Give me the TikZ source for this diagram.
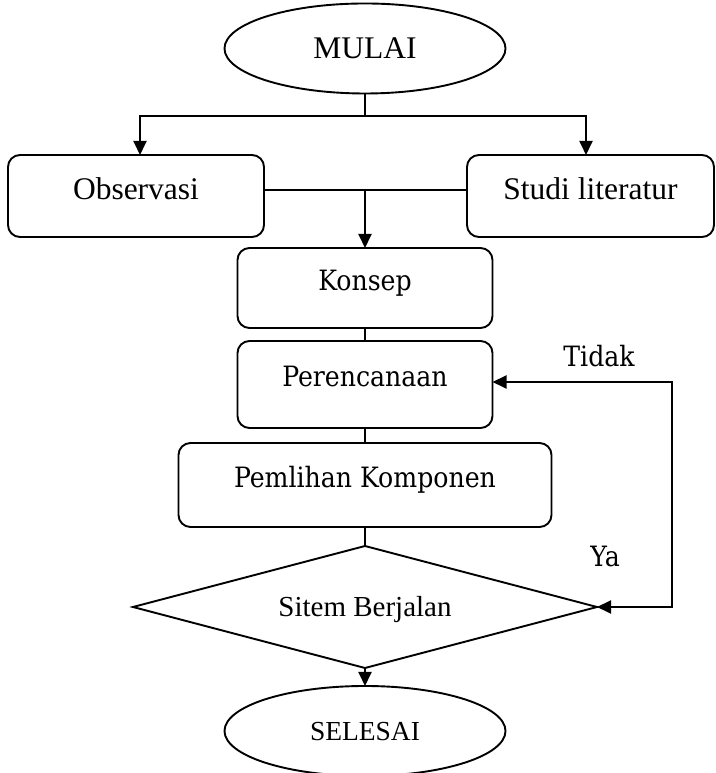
\documentclass[tikz,border=0pt]{standalone}
\usepackage{fontspec}
\setmainfont{Liberation Serif}
\newfontfamily\cambfont{DejaVu Serif Condensed}
\usetikzlibrary{shapes.geometric,arrows.meta}
\begin{document}
\begin{tikzpicture}[x=1pt,y=1pt,
  line width=1.9pt,
  every node/.style={inner sep=0pt, outer sep=0pt},
  tip/.style={-{Triangle[length=14pt,width=13pt]}},
  termnode/.style={draw, ellipse, minimum width=281pt, minimum height=90pt,
    text height=20.5pt, text depth=0pt},
  obox/.style={draw, rounded corners=12pt, font=\fontsize{31.5}{36}\selectfont,
    text height=21pt, text depth=14pt},
  cbox/.style={draw, rounded corners=12pt, font=\cambfont\fontsize{28}{32}\selectfont,
    text height=20.4pt, text depth=16pt},
  decnode/.style={draw, diamond, aspect=3.8, minimum width=464pt, minimum height=122pt,
    font=\fontsize{29}{32}\selectfont, text height=19pt, text depth=0pt},
  lbl/.style={font=\cambfont\fontsize{28}{32}\selectfont, text height=20.4pt, text depth=0pt}
]
\useasboundingbox (0,0) rectangle (715,773);

\node[termnode, font=\fontsize{31.5}{36}\selectfont] (mulai) at (365,724.5) {MULAI};
\node[obox, minimum width=256pt, minimum height=82pt] (obs) at (136,577) {Observasi};
\node[obox, minimum width=247pt, minimum height=82pt] (stu) at (590.5,577) {Studi literatur};
\node[cbox, minimum width=255pt, minimum height=80pt] (konsep) at (365,485) {Konsep};
\node[cbox, minimum width=255pt, minimum height=87pt] (perenc) at (365,388.5) {Perencanaan};
\node[cbox, minimum width=373pt, minimum height=84pt] (pemil) at (365,288) {Pemlihan Komponen};
\node[decnode] (dia) at (365,166) {Sitem Berjalan};
\node[termnode, font=\fontsize{27.5}{32}\selectfont, text height=18.2pt] (selesai) at (365,42) {SELESAI};

\node[lbl] (tidak) at (599,417) {Tidak};
\node[lbl] (ya) at (605,217) {Ya};

\coordinate (j1) at (365,657);
\coordinate (j2) at (365,583);
\coordinate (c1) at (672,391);
\coordinate (c2) at (672,166);

\draw (mulai.south) -- (j1);
\draw[tip] (j1) -| ([xshift=4pt]obs.north);
\draw[tip] (j1) -| ([xshift=-4.5pt]stu.north);
\draw (obs.east |- j2) -- (stu.west |- j2);
\draw[tip] (j2) -- (konsep.north);
\draw (konsep.south) -- (konsep.south |- perenc.north);
\draw (perenc.south) -- (perenc.south |- pemil.north);
\draw (pemil.south) -- (pemil.south |- dia.north);
\draw[tip] (dia.south) -- (selesai.north);
\draw[{Triangle[length=14pt,width=13pt]}-{Triangle[length=14pt,width=13pt]}]
  (perenc.east |- c1) -- (c1) -- (c2) -- (dia.east);
\end{tikzpicture}
\end{document}
